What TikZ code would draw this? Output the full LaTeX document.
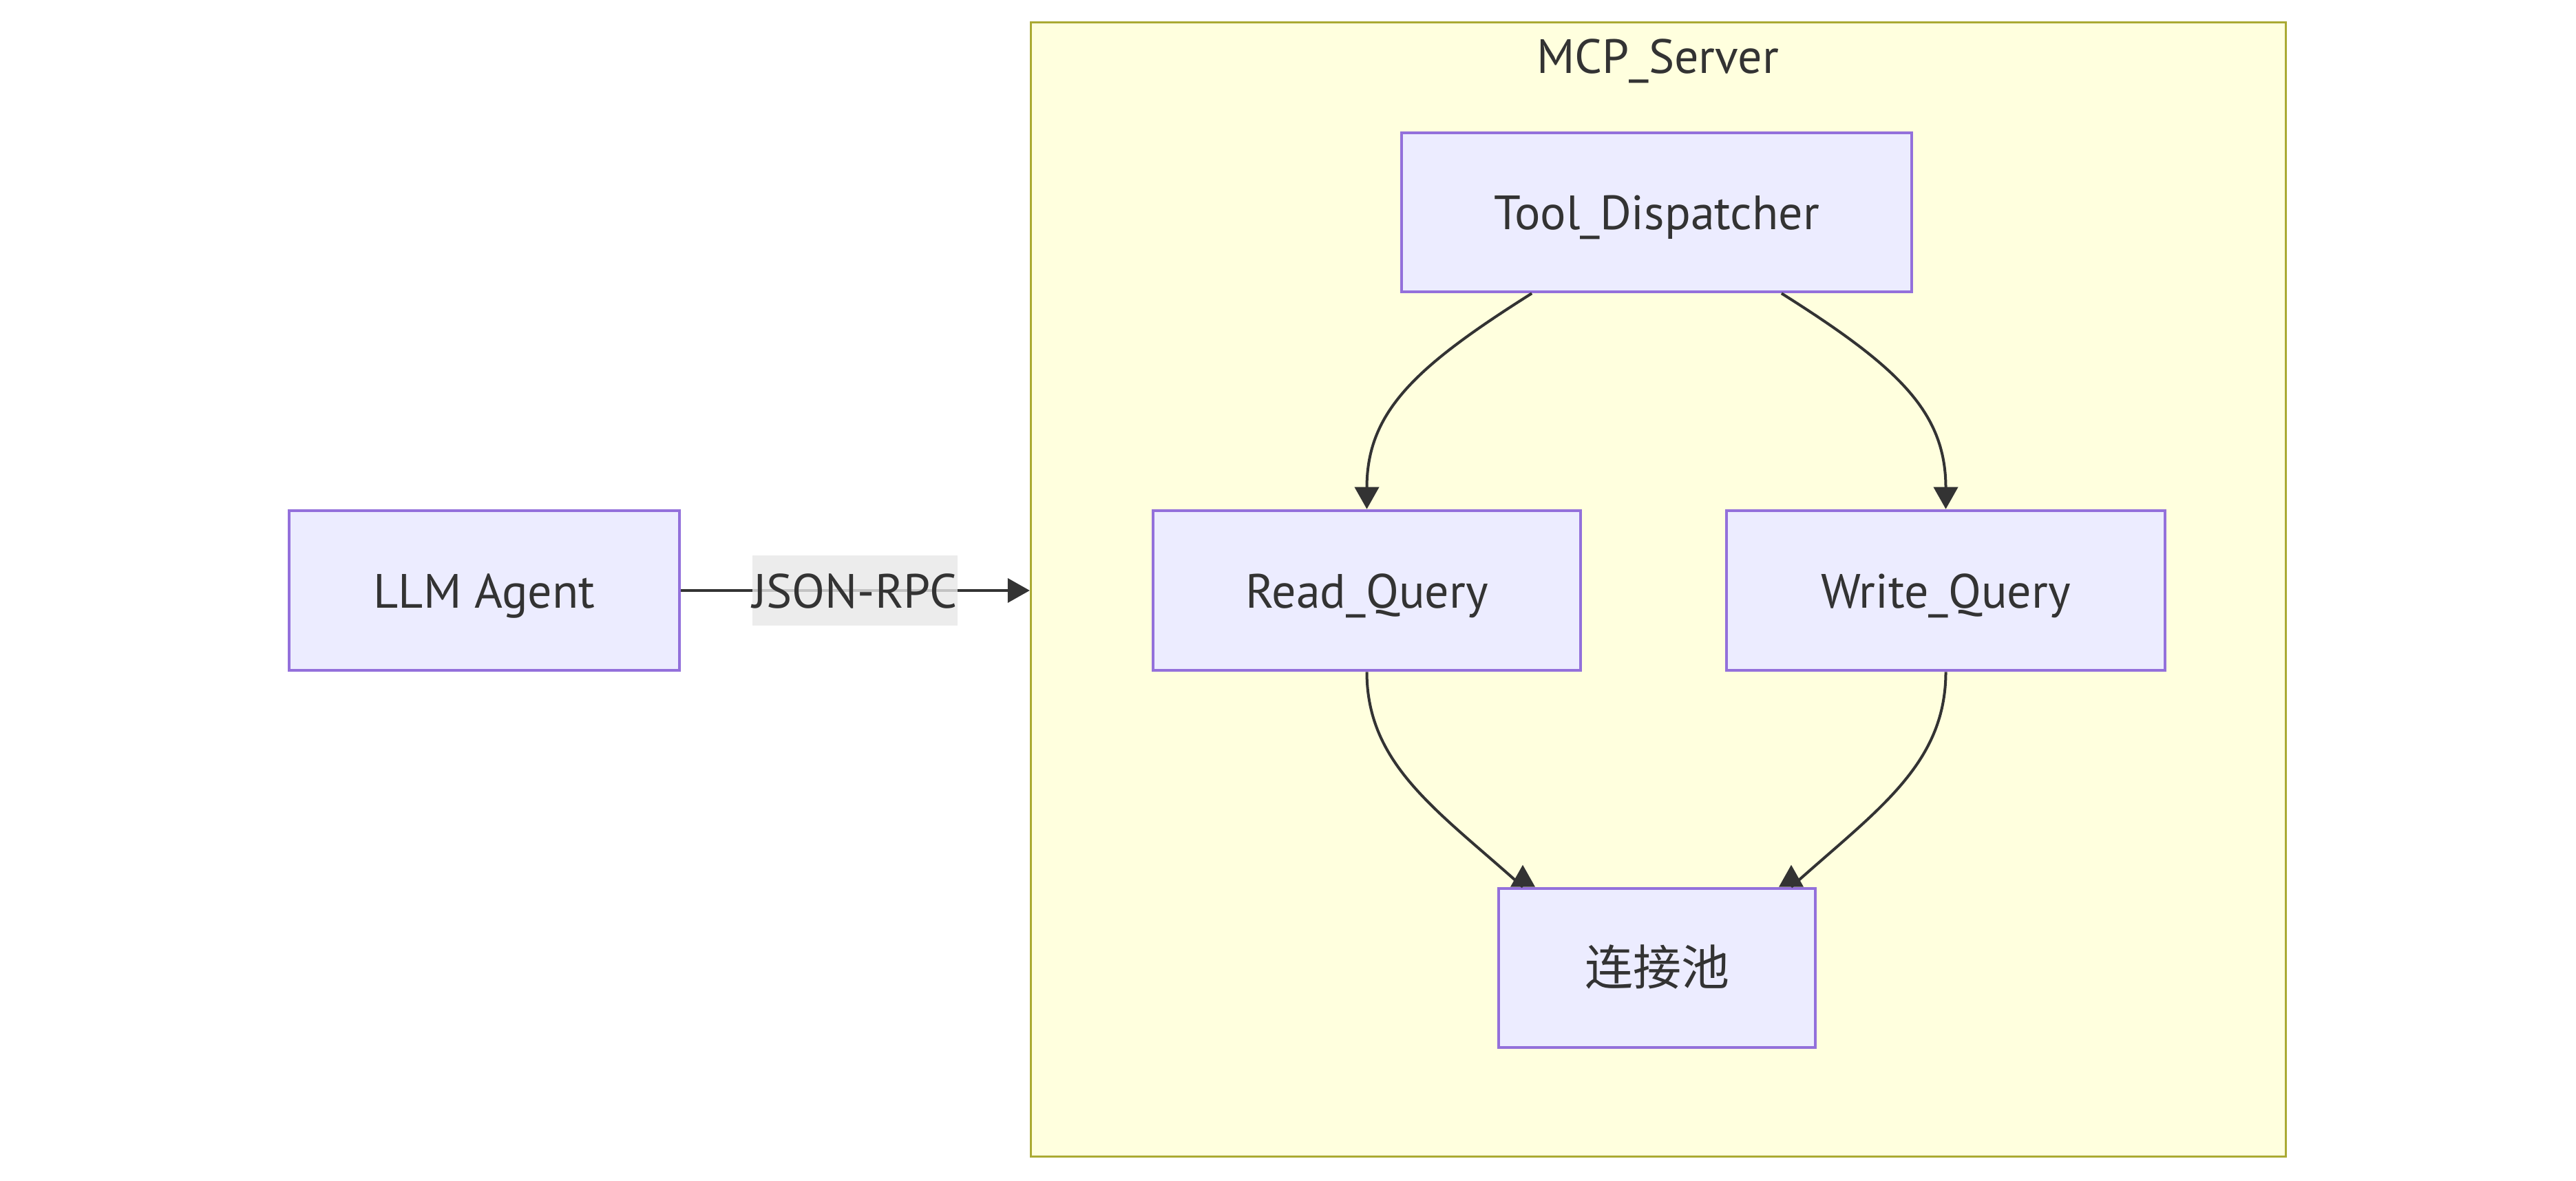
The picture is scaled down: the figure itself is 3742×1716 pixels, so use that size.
\documentclass[tikz,border=0pt]{standalone}
\usepackage{fontspec}
\setmainfont{PT Sans}
\newfontfamily\cjk{Noto Sans CJK SC}
\usetikzlibrary{arrows.meta,calc}
\definecolor{nodeFill}{HTML}{ECECFF}
\definecolor{nodeStroke}{HTML}{9370DB}
\definecolor{clFill}{HTML}{FFFFDE}
\definecolor{clStroke}{HTML}{AAAA33}
\definecolor{txt}{HTML}{333333}
\definecolor{edgec}{HTML}{333333}
\definecolor{lblbg}{HTML}{E8E8E8}
\newcommand{\mainsz}{\fontsize{19.9pt}{24pt}\selectfont}
\tikzset{
  box/.style={draw=nodeStroke, fill=nodeFill, line width=0.044cm, text=txt,
    inner sep=0pt, text height=0.5cm, text depth=0cm, font=\mainsz, align=center},
  cluster/.style={draw=clStroke, fill=clFill, line width=0.033cm, inner sep=0pt},
  edge/.style={draw=edgec, line width=0.04cm},
  tip/.style={-{Triangle[width=0.35cm,length=0.32cm]}},
  lbl/.style={fill=lblbg, fill opacity=0.8, text opacity=1, text=txt, font=\mainsz,
    inner sep=0pt, text height=0.5cm, text depth=0cm},
}
\begin{document}
\begin{tikzpicture}[x=0.01cm, y=-0.01cm]
\fill[white] (0,0) rectangle (3742,1716);
\useasboundingbox (0,0) rectangle (3742,1716);

% cluster
\node[cluster, minimum width=18.22cm, minimum height=16.47cm] (cl) at (2409,856.5) {};
\node[text=txt, font=\mainsz, anchor=base, inner sep=0pt] (cltitle) at (2408,107) {MCP\_Server};

% nodes
\node[box, minimum width=5.67cm, minimum height=2.32cm] (llm) at (703.5,858) {LLM Agent};
\node[box, minimum width=7.41cm, minimum height=2.31cm] (td) at (2406.5,308.5) {Tool\_Dispatcher};
\node[box, minimum width=6.21cm, minimum height=2.32cm] (rq) at (1985.5,858) {Read\_Query};
\node[box, minimum width=6.37cm, minimum height=2.32cm] (wq) at (2826.5,858) {Write\_Query};
\node[box, minimum width=4.60cm, minimum height=2.31cm, font=\mainsz\cjk] (pool) at (2407,1406.5) {连接池};

% LLM -> cluster
\draw[edge, tip] (llm.east) -- (llm.east -| cl.west);
\node[lbl, minimum width=2.98cm, minimum height=1.02cm] (rpc) at (1242,858) {JSON-RPC};

% dispatcher -> queries
\draw[edge, tip] (td.213) .. controls +(-168,106) and +(0,-142) .. (rq.north);
\draw[edge, tip] (td.327) .. controls +(168,106) and +(0,-142) .. (wq.north);

% queries -> pool
\coordinate (pl) at ($(pool.north)+(-195,0)$);
\coordinate (pr) at ($(pool.north)+(195,0)$);
\draw[edge] (rq.south) .. controls +(0,136) and +(-122,-110) .. (pl);
\draw[edge] (wq.south) .. controls +(0,136) and +(122,-110) .. (pr);
\fill[edgec] ($(pl)+(-18,0)$) -- ($(pl)+(0,-32)$) -- ($(pl)+(18,0)$) -- cycle;
\fill[edgec] ($(pr)+(-18,0)$) -- ($(pr)+(0,-32)$) -- ($(pr)+(18,0)$) -- cycle;
\end{tikzpicture}
\end{document}
